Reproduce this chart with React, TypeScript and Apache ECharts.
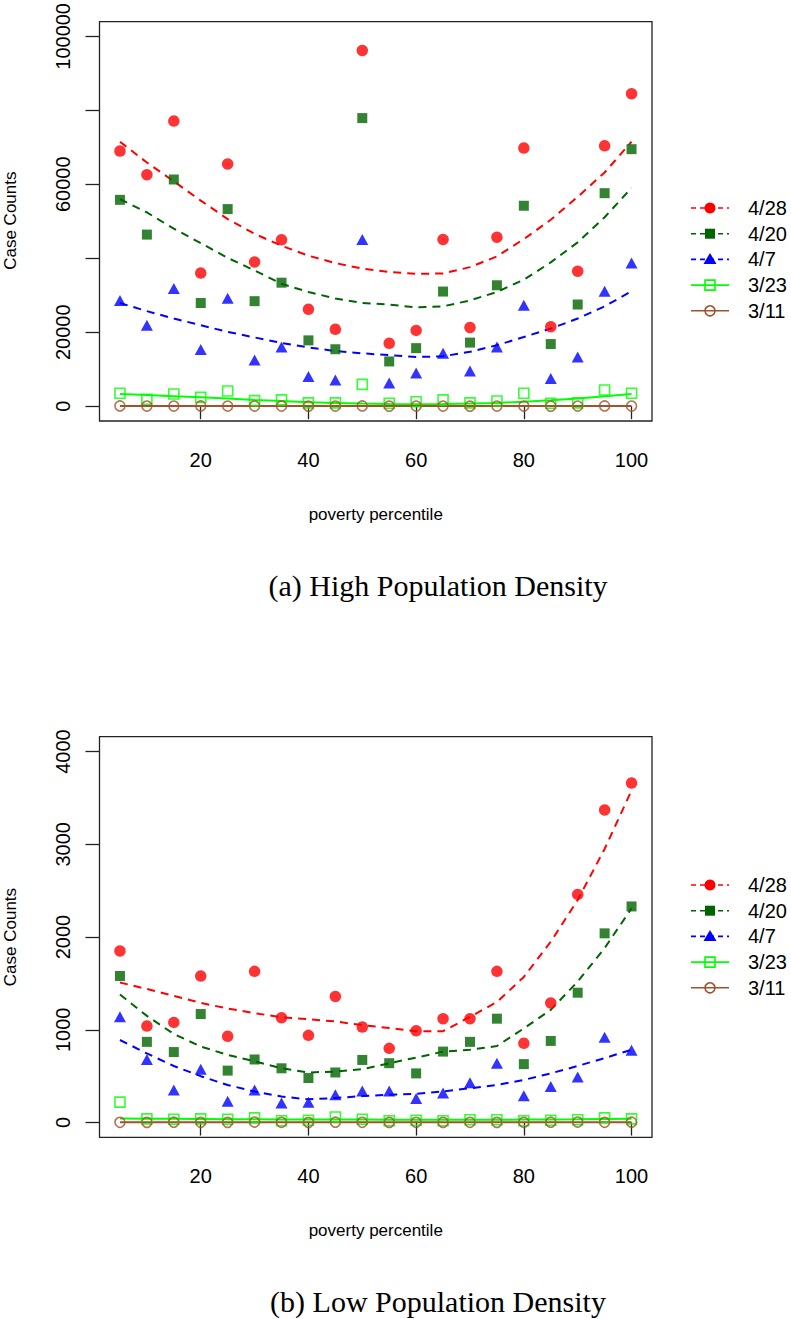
import React, { useEffect, useRef } from "react";
import * as echarts from "echarts";

// ---------- data ----------
const xs = [5, 10, 15, 20, 25, 30, 35, 40, 45, 50, 55, 60, 65, 70, 75, 80, 85, 90, 95, 100];
const dates = ["4/28", "4/20", "4/7", "3/23", "3/11"];

// (a) High population density — observed counts
const hi0428 = [69000, 62600, 77100, 36000, 65500, 39000, 45000, 26200, 20800, 96200, 17000, 20500, 45100, 21300, 45700, 69800, 21500, 36500, 70400, 84500];
const hi0420 = [55800, 46400, 61300, 27900, 53300, 28400, 33400, 17800, 15400, 77900, 12100, 15700, 31000, 17200, 32700, 54200, 16800, 27500, 57600, 69500];
const hi0407 = [28600, 21900, 31800, 15300, 29200, 12500, 16000, 8000, 7100, 45100, 6300, 9000, 14300, 9500, 16000, 27300, 7500, 13300, 31100, 38700];
const hi0323 = [3500, 1900, 3300, 2400, 4100, 1500, 1700, 900, 900, 5900, 800, 1200, 1700, 900, 1400, 3500, 800, 900, 4400, 3500];
const hi0311 = [60, 40, 50, 70, 30, 40, 50, 20, 30, 60, 20, 30, 40, 20, 30, 50, 20, 30, 60, 50];
// (a) fitted curves
const hiFit0428 = [71500, 65900, 60800, 55600, 50600, 46600, 43400, 40700, 38700, 37200, 36300, 35800, 35900, 37600, 40500, 45200, 50400, 56600, 63200, 71500];
const hiFit0420 = [56000, 52400, 48000, 44100, 40100, 36700, 33100, 30900, 29100, 27900, 27500, 26700, 27000, 28600, 30900, 34200, 38900, 44300, 51100, 59000];
const hiFit0407 = [27900, 25700, 23700, 21900, 20100, 18600, 17100, 15900, 14900, 14300, 13800, 13300, 13500, 14700, 16500, 18700, 21000, 23700, 27000, 31100];
const hiFit0323 = [3300, 3000, 2700, 2400, 2100, 1700, 1400, 1100, 900, 700, 600, 550, 600, 700, 900, 1200, 1600, 2100, 2700, 3300];
const hiFit0311 = [50, 45, 40, 40, 40, 35, 35, 35, 35, 35, 35, 35, 35, 35, 35, 40, 40, 40, 45, 50];

// (b) Low population density — observed counts
const lo0428 = [1850, 1040, 1080, 1580, 930, 1630, 1130, 940, 1360, 1030, 800, 990, 1120, 1120, 1630, 855, 1290, 2460, 3370, 3660];
const lo0420 = [1580, 870, 760, 1170, 560, 680, 585, 480, 540, 675, 640, 530, 765, 870, 1120, 630, 880, 1400, 2040, 2330];
const lo0407 = [1140, 680, 350, 575, 230, 350, 210, 220, 300, 340, 340, 260, 320, 430, 640, 290, 390, 490, 920, 780];
const lo0323 = [220, 40, 35, 40, 35, 50, 20, 25, 60, 35, 20, 25, 20, 30, 30, 20, 25, 30, 50, 40];
const lo0311 = [3, 2, 4, 3, 2, 5, 3, 2, 4, 3, 2, 3, 2, 3, 2, 3, 4, 5, 3, 4];
// (b) fitted curves
const loFit0428 = [1510, 1440, 1365, 1290, 1230, 1180, 1135, 1115, 1090, 1050, 1020, 985, 985, 1140, 1300, 1570, 1950, 2400, 2950, 3580];
const loFit0420 = [1380, 1150, 955, 820, 730, 660, 585, 540, 550, 575, 640, 700, 765, 785, 825, 1015, 1215, 1520, 1880, 2310];
const loFit0407 = [890, 745, 610, 500, 405, 335, 280, 250, 265, 285, 300, 310, 335, 370, 405, 460, 530, 610, 695, 785];
const loFit0323 = [45, 42, 40, 38, 36, 35, 33, 32, 32, 32, 31, 30, 30, 30, 31, 32, 33, 35, 38, 40];
const loFit0311 = [3, 3, 3, 3, 3, 3, 3, 3, 3, 3, 3, 3, 3, 3, 3, 3, 3, 3, 3, 3];

// ticks
const xTicks = [20, 40, 60, 80, 100];
const hiYTicks = [0, 20000, 40000, 60000, 80000, 100000];
const hiYLabels = [0, 20000, 60000, 100000];
const loYTicks = [0, 1000, 2000, 3000, 4000];
const loYLabels = [0, 1000, 2000, 3000, 4000];

const xTitle = "poverty percentile";
const yTitle = "Case Counts";
const captions = ["(a) High Population Density", "(b) Low Population Density"];

// ---------- styling ----------
const SANS = "Liberation Sans, Arial, Helvetica, sans-serif";
const SERIF = "Liberation Serif, Times New Roman, serif";
const styles = [
  { color: "#ff0000", symbol: "circle", size: 11.5, filled: true, dashed: true },
  { color: "#006400", symbol: "rect", size: 10, filled: true, dashed: true },
  { color: "#0000ff", symbol: "triangle", size: [12, 11], filled: true, dashed: true },
  { color: "#00ff00", symbol: "rect", size: 10, filled: false, dashed: false },
  { color: "#a0522d", symbol: "circle", size: 10, filled: false, dashed: false },
];

const GRID_LEFT = 99.5;
const GRID_W = 552.5;
const GRID_H = 400.7;
const GRID_TOPS = [20.3, 736.7];
const LEGEND_Y0 = [208, 885];
const LEGEND_STEP = 25.7;

function buildSeries(g: number, pts: number[][], fits: number[][]) {
  const out: any[] = [];
  styles.forEach((s, k) => {
    out.push({
      type: "line",
      name: dates[k] + " fit",
      xAxisIndex: g,
      yAxisIndex: g,
      data: xs.map((x, i) => [x, fits[k][i]]),
      showSymbol: false,
      symbol: "none",
      silent: true,
      z: 2,
      lineStyle: { color: s.color, width: 2, type: s.dashed ? [8, 6] : "solid" },
    });
    out.push({
      type: "scatter",
      name: dates[k],
      xAxisIndex: g,
      yAxisIndex: g,
      data: xs.map((x, i) => [x, pts[k][i]]),
      symbol: s.symbol,
      symbolSize: s.size,
      silent: true,
      z: 3,
      itemStyle: s.filled
        ? { color: s.color }
        : { color: "rgba(0,0,0,0)", borderColor: s.color, borderWidth: 1.6 },
    });
  });
  return out;
}

function legendGraphics(y0: number) {
  const els: any[] = [];
  styles.forEach((s, k) => {
    const y = y0 + k * LEGEND_STEP;
    els.push({
      type: "line",
      shape: { x1: 691, y1: y, x2: 729, y2: y },
      style: { stroke: s.color, lineWidth: 1.6, lineDash: s.dashed ? [5, 4] : null },
    });
    const st = { fill: s.filled ? s.color : "none", stroke: s.color, lineWidth: s.filled ? 0 : 1.6 };
    if (s.symbol === "circle") {
      els.push({ type: "circle", shape: { cx: 710, cy: y, r: s.filled ? 5.5 : 5 }, style: st });
    } else if (s.symbol === "rect") {
      els.push({ type: "rect", shape: { x: 705, y: y - 5, width: 10, height: 10 }, style: st });
    } else {
      els.push({ type: "polygon", shape: { points: [[710, y - 6.5], [703.5, y + 4.5], [716.5, y + 4.5]] }, style: st });
    }
    els.push({
      type: "text",
      x: 748,
      y,
      style: { text: dates[k], fontSize: 20, fontFamily: SANS, fill: "#000", align: "left", verticalAlign: "middle" },
    });
  });
  return els;
}

function xAxisFor(g: number) {
  return {
    type: "value",
    gridIndex: g,
    min: 1.2,
    max: 103.8,
    axisLine: { show: false },
    splitLine: { show: false },
    axisTick: { show: true, customValues: xTicks, length: 13, lineStyle: { color: "#222", width: 1.3 } },
    axisLabel: { customValues: xTicks, margin: 29, fontSize: 20, fontFamily: SANS, color: "#000", formatter: (v: number) => String(v) },
  };
}

function yAxisFor(g: number, min: number, max: number, ticks: number[], labels: number[]) {
  return {
    type: "value",
    gridIndex: g,
    min,
    max,
    axisLine: { show: false },
    splitLine: { show: false },
    axisTick: { show: true, customValues: ticks, length: 14, lineStyle: { color: "#222", width: 1.3 } },
    axisLabel: { customValues: labels, rotate: 90, margin: 27, fontSize: 20, fontFamily: SANS, color: "#000", formatter: (v: number) => String(v) },
  };
}

export default function App() {
  const ref = useRef<HTMLDivElement>(null);
  useEffect(() => {
    if (!ref.current) return;
    const chart = echarts.init(ref.current, null, { renderer: "svg" });
    const graphics: any[] = [];
    GRID_TOPS.forEach((top, g) => {
      graphics.push(...legendGraphics(LEGEND_Y0[g]));
      graphics.push({
        type: "text",
        x: GRID_LEFT + GRID_W / 2,
        y: top + GRID_H + 93,
        style: { text: xTitle, fontSize: 17, fontFamily: SANS, fill: "#000", align: "center", verticalAlign: "middle" },
      });
      graphics.push({
        type: "text",
        x: 10,
        y: top + GRID_H / 2,
        rotation: Math.PI / 2,
        style: { text: yTitle, fontSize: 17, fontFamily: SANS, fill: "#000", align: "center", verticalAlign: "middle" },
      });
      graphics.push({
        type: "text",
        x: 438,
        y: top + GRID_H + 164,
        style: { text: captions[g], fontSize: 30, fontFamily: SERIF, fill: "#000", align: "center", verticalAlign: "middle" },
      });
    });
    chart.setOption({
      animation: false,
      backgroundColor: "#ffffff",
      grid: GRID_TOPS.map((top) => ({
        left: GRID_LEFT,
        top,
        width: GRID_W,
        height: GRID_H,
        show: true,
        borderColor: "#222",
        borderWidth: 1.3,
        backgroundColor: "transparent",
      })),
      xAxis: [xAxisFor(0), xAxisFor(1)],
      yAxis: [
        yAxisFor(0, -4000, 104000, hiYTicks, hiYLabels),
        yAxisFor(1, -160, 4160, loYTicks, loYLabels),
      ],
      series: [
        ...buildSeries(0, [hi0428, hi0420, hi0407, hi0323, hi0311], [hiFit0428, hiFit0420, hiFit0407, hiFit0323, hiFit0311]),
        ...buildSeries(1, [lo0428, lo0420, lo0407, lo0323, lo0311], [loFit0428, loFit0420, loFit0407, loFit0323, loFit0311]),
      ],
      graphic: graphics,
    });
    return () => chart.dispose();
  }, []);
  return <div ref={ref} style={{ position: "absolute", left: 0, top: 0, width: 791, height: 1319 }} />;
}
